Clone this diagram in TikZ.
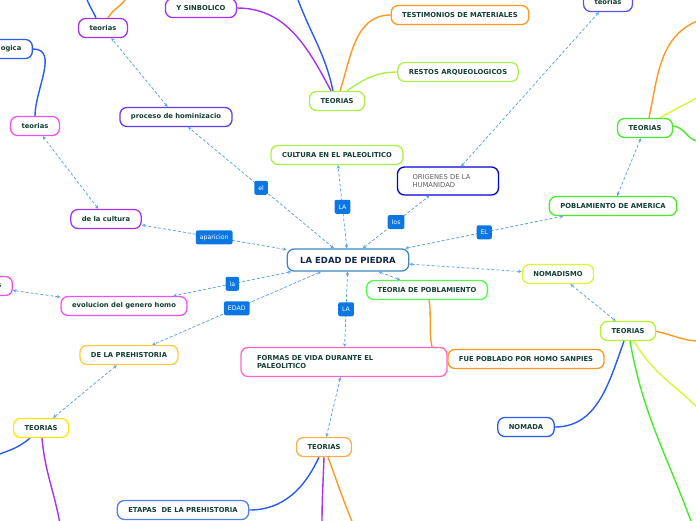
\documentclass[tikz,border=0pt]{standalone}
\usepackage{fontspec}
\setmainfont{DejaVu Sans}
\usetikzlibrary{arrows.meta, backgrounds}

\definecolor{linkblue}{RGB}{95,165,238}
\definecolor{tagblue}{RGB}{12,118,226}
\definecolor{nodetext}{RGB}{20,62,52}
\definecolor{rootedge}{RGB}{60,134,198}
\definecolor{roottext}{RGB}{20,38,78}
\definecolor{brblue}{RGB}{40,92,240}
\definecolor{brpurple}{RGB}{165,50,240}
\definecolor{brorange}{RGB}{255,152,30}
\definecolor{brlime}{RGB}{170,240,70}
\definecolor{bryellow}{RGB}{220,245,50}
\definecolor{brgreen}{RGB}{70,235,40}
\definecolor{bdpink}{RGB}{255,100,200}
\definecolor{bdmagenta}{RGB}{240,80,240}
\definecolor{bdgold}{RGB}{255,205,60}
\definecolor{bdindigo}{RGB}{100,60,230}
\definecolor{bdviolet}{RGB}{90,80,240}

\begin{document}
\begin{tikzpicture}[x=1pt, y=-1pt,
    every node/.style={font=\fontsize{6.8}{8}\selectfont\bfseries, text=nodetext},
    topic/.style={rectangle, rounded corners=7pt, fill=white, line width=1.3pt,
                  align=center, minimum height=19pt, inner xsep=11pt, inner ysep=2pt},
    tag/.style={rectangle, rounded corners=2pt, fill=tagblue, text=white,
                font=\fontsize{6.2}{7}\selectfont, minimum height=14pt, inner xsep=4pt},
    link/.style={{Stealth[length=3.5pt,width=3.5pt]}-{Stealth[length=3.5pt,width=3.5pt]},
                 linkblue, line width=0.8pt, dash pattern=on 3pt off 2pt},
    branch/.style={line width=1.4pt}
]
    \useasboundingbox (0,0) rectangle (696,520);

    % centre and first ring
    \node[topic, draw=rootedge, text=roottext, font=\fontsize{8.5}{10}\selectfont\bfseries,
          minimum height=22pt, inner xsep=13pt] (edad) at (348,260) {LA EDAD DE PIEDRA};
    \node[topic, draw=brlime] (cultura) at (337,155) {CULTURA EN EL PALEOLITICO};
    \node[topic, draw=blue!85!black, font=\fontsize{6.8}{8.5}\selectfont, text=gray!75!black,
          align=left, text width=71pt, inner xsep=15pt, minimum height=28pt] (origenes) at (448,181) {ORIGENES DE LA\\HUMANIDAD};
    \node[topic, draw=brgreen] (america) at (613,206) {POBLAMIENTO DE AMERICA};
    \node[topic, draw=bryellow] (nomadismo) at (558,274) {NOMADISMO};
    \node[topic, draw=green!70] (teopob) at (427,290) {TEORIA DE POBLAMIENTO};
    \node[topic, draw=bdpink, align=left, text width=174pt, inner xsep=16pt,
          minimum height=29pt] (formas) at (344,362) {FORMAS DE VIDA DURANTE EL\\PALEOLITICO};
    \node[topic, draw=brorange] (fuepob) at (526,359) {FUE POBLADO POR HOMO SANPIES};
    \node[topic, draw=bdgold] (prehist) at (129,355) {DE LA PREHISTORIA};
    \node[topic, draw=bdmagenta] (evol) at (124,306) {evolucion del genero homo};
    \node[topic, draw=brpurple] (cultu) at (106,219) {de la cultura};
    \node[topic, draw=bdindigo] (homini) at (176,117) {proceso de hominizacio};

    % outer ring
    \node[topic, draw=brpurple] (teoA) at (103,28) {teorias};
    \node[topic, draw=bdmagenta] (teoB) at (35,126) {teorias};
    \node[topic, draw=brblue, anchor=east, align=right, text width=50pt] (ogica) at (33,49) {ogica};
    \node[topic, draw=bdmagenta, anchor=east, align=right, text width=40pt] (sfrag) at (13,286) {s};
    \node[topic, draw=brpurple] (sinbol) at (201,8) {Y SINBOLICO};
    \node[topic, draw=brorange] (testi) at (460,15) {TESTIMONIOS DE MATERIALES};
    \node[topic, draw=brlime] (restos) at (458,72) {RESTOS ARQUEOLOGICOS};
    \node[topic, draw=brlime] (teoT) at (337,101) {TEORIAS};
    \node[topic, draw=bdviolet] (teoTR) at (608,2) {teorias};
    \node[topic, draw=brgreen] (teoR) at (645,128) {TEORIAS};
    \node[topic, draw=bryellow!80!green] (teoRL) at (628,331) {TEORIAS};
    \node[topic, draw=brblue] (nomada) at (526,427) {NOMADA};
    \node[topic, draw=yellow!90!orange] (teoBL) at (41,428) {TEORIAS};
    \node[topic, draw=brorange!80] (teoBC) at (324,447) {TEORIAS};
    \node[topic, draw=brblue!80] (etapas) at (183,510) {ETAPAS\ \ DE LA PREHISTORIA};

    % loose ends leaving the picture
    \coordinate (endA1) at (297,-3);
    \coordinate (endB1) at (86,-3);
    \coordinate (endB2) at (127,-3);
    \coordinate (endR1) at (700,20);
    \coordinate (endR2) at (700,96);
    \coordinate (endR3) at (700,141);
    \coordinate (endL1) at (700,341);
    \coordinate (endL2) at (692,524);
    \coordinate (endL3) at (700,410);
    \coordinate (endF1) at (-3,455);
    \coordinate (endF2) at (60,524);
    \coordinate (endG1) at (322,524);
    \coordinate (endG2) at (353,524);

    \begin{scope}[on background layer]
        \draw[branch, brblue] ([xshift=-4pt]teoT.north) to[out=102, in=-70] (endA1);
        \draw[branch, brpurple] ([xshift=-6pt]teoT.north) to[out=118, in=0] (sinbol.east);
        \draw[branch, brorange] ([xshift=3pt]teoT.north) to[out=72, in=180] (testi.west);
        \draw[branch, brlime] ([xshift=10pt]teoT.north) to[out=35, in=180] (restos.west);
        \draw[branch, brblue] ([xshift=-7pt]teoA.north) to[out=115, in=-70] (endB1);
        \draw[branch, brorange] ([xshift=5pt]teoA.north) to[out=60, in=-120] (endB2);
        \draw[branch, brblue] (ogica.east) to[out=0, in=90] (teoB.north);
        \draw[branch, brorange] ([xshift=4pt]teoR.north) to[out=78, in=200] (endR1);
        \draw[branch, bryellow] ([xshift=15pt]teoR.north) to[out=30, in=210] (endR2);
        \draw[branch, brgreen] ([yshift=2pt]teoR.east) to[out=-5, in=185] (endR3);
        \draw[branch, brorange] ([xshift=-2pt]teoRL.east) to[out=-10, in=180] (endL1);
        \draw[branch, brblue] ([xshift=-4pt]teoRL.south) to[out=-110, in=0] (nomada.east);
        \draw[branch, brgreen] ([xshift=2pt]teoRL.south) to[out=-80, in=110] (endL2);
        \draw[branch, bryellow] ([xshift=6pt]teoRL.south) to[out=-60, in=135] (endL3);
        \draw[branch, brorange] ([xshift=2pt]teopob.south) to[out=-80, in=180] (fuepob.west);
        \draw[branch, brblue] ([xshift=-11pt]teoBL.south) to[out=-140, in=20] (endF1);
        \draw[branch, brpurple] ([xshift=1pt]teoBL.south) to[out=-85, in=100] (endF2);
        \draw[branch, brblue] ([xshift=-5pt]teoBC.south) to[out=-115, in=0] (etapas.east);
        \draw[branch, brpurple] (teoBC.south) to[out=-92, in=90] (endG1);
        \draw[branch, brorange] ([xshift=4pt]teoBC.south) to[out=-70, in=112] (endG2);
    \end{scope}

    % dashed relations
    \draw[link] (edad) -- node[tag] {el} (homini);
    \draw[link] (edad) -- node[tag] {LA} (cultura);
    \draw[link] (edad) -- node[tag] {los} (origenes);
    \draw[link] (edad) -- node[tag] {EL} (america);
    \draw[link] (edad) -- node[tag] {aparicion} (cultu);
    \draw[link] (edad) -- node[tag] {la} (evol);
    \draw[link] (edad) -- node[tag] {EDAD} (prehist);
    \draw[link] (edad) -- node[tag] {LA} (formas);
    \draw[link] (edad) -- (teopob);
    \draw[link] (edad) -- (nomadismo);
    \draw[link] (homini) -- (teoA);
    \draw[link] (cultu) -- (teoB);
    \draw[link] (evol) -- (sfrag);
    \draw[link] (prehist) -- (teoBL);
    \draw[link] (formas) -- (teoBC);
    \draw[link] (origenes) -- (teoTR);
    \draw[link] (america) -- (teoR);
    \draw[link] (nomadismo) -- (teoRL);
\end{tikzpicture}
\end{document}
